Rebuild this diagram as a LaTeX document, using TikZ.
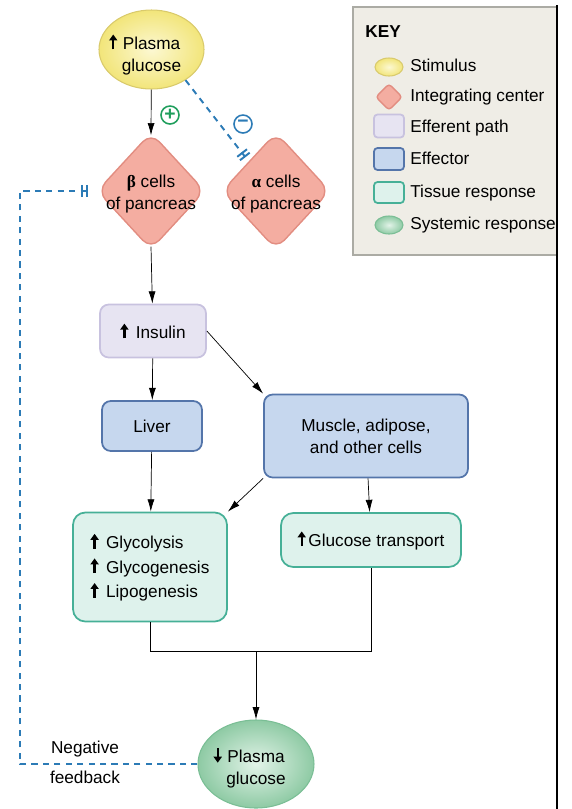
\documentclass[tikz,border=0pt]{standalone}
\usepackage{fontspec}
\setmainfont{Liberation Sans}
\newfontfamily\grk{Liberation Serif}
\usetikzlibrary{arrows.meta, shapes.geometric, positioning}

\definecolor{stimin}{HTML}{FCF8D2}
\definecolor{stimout}{HTML}{F2E57A}
\definecolor{stimline}{HTML}{D9CA6C}
\definecolor{intfill}{HTML}{F4ADA1}
\definecolor{intline}{HTML}{E28D81}
\definecolor{efffill}{HTML}{E7E4F2}
\definecolor{effline}{HTML}{C8C2DF}
\definecolor{fxfill}{HTML}{C6D7EE}
\definecolor{fxline}{HTML}{5475AA}
\definecolor{tisfill}{HTML}{DEF2EC}
\definecolor{tisline}{HTML}{46B097}
\definecolor{sysin}{HTML}{E2F3E8}
\definecolor{sysout}{HTML}{8ECAA4}
\definecolor{sysline}{HTML}{7ABE95}
\definecolor{fbblue}{HTML}{2C7BB6}
\definecolor{plusgreen}{HTML}{1F9E5C}
\definecolor{keybg}{HTML}{EFEDE6}
\definecolor{keyline}{HTML}{ABABA4}

% heavy little arrows used inside the texts
\newcommand{\up}{\tikz[baseline=0pt]\draw[black, line width=1.3pt, -{Triangle[length=3.4pt,width=4.6pt]}] (0,0) -- (0,8.4pt);\kern1.5pt}
\newcommand{\down}{\tikz[baseline=0pt]\draw[black, line width=1.3pt, -{Triangle[length=3.4pt,width=4.6pt]}] (0,8.4pt) -- (0,0);\kern1.5pt}
\newcommand{\diagfont}{\fontsize{9.8}{12.5}\selectfont}

\tikzset{
	-{Latex[length=7pt,width=4pt]}, line width=0.6pt, draw=black,
	every node/.style={inner sep=0pt, font=\diagfont},
	stimulus/.style={ellipse, draw=stimline, inner color=stimin, outer color=stimout, line width=0.6pt},
	integ/.style={diamond, draw=intline, fill=intfill, rounded corners=7pt, line width=0.8pt},
	efferent/.style={rectangle, rounded corners=5pt, draw=effline, fill=efffill, line width=1pt},
	effector/.style={rectangle, rounded corners=5pt, draw=fxline, fill=fxfill, line width=1pt},
	tissue/.style={rectangle, rounded corners=7pt, draw=tisline, fill=tisfill, line width=1pt},
	systemic/.style={ellipse, draw=sysline, inner color=sysin, outer color=sysout, line width=0.6pt},
	inhib/.style={-{Bar[width=7pt,sep=1.4pt]Bar[width=7pt]}, dash pattern=on 3.5pt off 3pt, draw=fbblue, line width=1.1pt},
	sign/.style={circle, draw, line width=0.9pt, minimum size=0.36cm, font=\bfseries\fontsize{11}{11}\selectfont},
	keytext/.style={anchor=west, text height=7pt, text depth=2pt}
}

\begin{document}
\begin{tikzpicture}
	\useasboundingbox (0,0) rectangle (11.42,-16.18);
	
	% stimulus and integrating centers
	\node[stimulus, minimum width=2.1cm, minimum height=1.58cm] (stim) at (3.03,-0.99) {};
	\node[align=center] (stimtxt) at ([yshift=-2.6pt]stim.center) {\llap{\up\,}Plasma\\glucose};
	\node[integ, minimum width=2.16cm, minimum height=2.34cm] (beta) at (3.02,-3.82) {};
	\node[align=center] (betatxt) at ([yshift=-1.6pt]beta.center) {{\grk\bfseries β} cells\\of pancreas};
	\node[integ, minimum width=2.16cm, minimum height=2.34cm] (alpha) at (5.52,-3.82) {};
	\node[align=center] (alphatxt) at ([yshift=-1.6pt]alpha.center) {{\grk\bfseries α} cells\\of pancreas};
	\node[sign, draw=plusgreen, text=plusgreen] (plus) at (3.4,-2.3) {+};
	\node[sign, draw=fbblue, text=fbblue] (minus) at (4.86,-2.48) {\textminus};
	
	% efferent path and effectors
	\node[efferent, minimum width=2.12cm, minimum height=1.06cm] (ins) at (3.06,-6.62) {\up\ Insulin};
	\node[effector, minimum width=2.0cm, minimum height=1.0cm] (liver) at (3.04,-8.52) {Liver};
	\node[effector, minimum width=4.08cm, minimum height=1.66cm, align=center] (mus) at (7.32,-8.72) {Muscle, adipose,\\and other cells};
	
	% responses
	\node[tissue, minimum width=3.08cm, minimum height=2.18cm, align=left] (gly) at (3.0,-11.34) {\up\ Glycolysis\\[1.5pt]\up\ Glycogenesis\\[1.5pt]\up\ Lipogenesis};
	\node[tissue, minimum width=3.6cm, minimum height=1.08cm] (gt) at (7.42,-10.8) {\up Glucose transport};
	\node[systemic, minimum width=2.32cm, minimum height=1.76cm] (sys) at (5.12,-15.28) {};
	\node[align=center] (systxt) at ([yshift=-2pt]sys.center) {\llap{\down\,}Plasma\\glucose};
	\coordinate (join) at (5.12,-13.02);
	\coordinate (fb) at (0.4,-3.82);
	\node (neg) at (1.7,-14.98) {Negative};
	\node (feed) at (1.7,-15.54) {feedback};
	
	% Directed edges
	\draw (stim) -- ([yshift=-2pt]beta.north);
	\draw[inhib, shorten >=3pt] (stim.-42) -- (alpha.north west);
	\draw ([yshift=2pt]beta.south) -- (ins);
	\draw (ins) -- (liver);
	\draw (ins.east) -- (mus.north west);
	\draw (liver) -- (gly);
	\draw (mus.south west) -- (gly.north east);
	\draw (mus) -- (gt);
	\draw[-] (gly.south) |- (join) -| (gt.south);
	\draw (join) -- (sys);
	\draw[inhib, shorten >=5pt] (sys.west) -| (fb) -- (beta.west);
	
	% key
	\node[draw=keyline, fill=keybg, line width=1.4pt, minimum width=4.08cm, minimum height=4.96cm] (key) at (9.1,-2.62) {};
	\node[anchor=west, font=\diagfont\bfseries] (keytitle) at (7.3,-0.64) {KEY};
	\node[stimulus, minimum width=0.56cm, minimum height=0.36cm] (kstim) at (7.78,-1.34) {};
	\node[integ, rounded corners=2pt, minimum width=0.54cm, minimum height=0.54cm] (kint) at (7.78,-1.94) {};
	\node[efferent, rounded corners=2pt, minimum width=0.6cm, minimum height=0.46cm] (keff) at (7.78,-2.52) {};
	\node[effector, rounded corners=2pt, minimum width=0.6cm, minimum height=0.44cm] (kfx) at (7.78,-3.18) {};
	\node[tissue, rounded corners=2pt, minimum width=0.6cm, minimum height=0.42cm] (ktis) at (7.78,-3.85) {};
	\node[systemic, minimum width=0.56cm, minimum height=0.36cm] (ksys) at (7.78,-4.5) {};
	\node[keytext] (tstim) at (8.2,-1.34) {Stimulus};
	\node[keytext] (tint) at (8.2,-1.94) {Integrating center};
	\node[keytext] (teff) at (8.2,-2.56) {Efferent path};
	\node[keytext] (tfx) at (8.2,-3.2) {Effector};
	\node[keytext] (ttis) at (8.2,-3.86) {Tissue response};
	\node[keytext] (tsys) at (8.2,-4.5) {Systemic response};
	
	\draw[-, line width=1.6pt, black] (11.14,-0.1) -- (11.14,-16.18);
\end{tikzpicture}
\end{document}
